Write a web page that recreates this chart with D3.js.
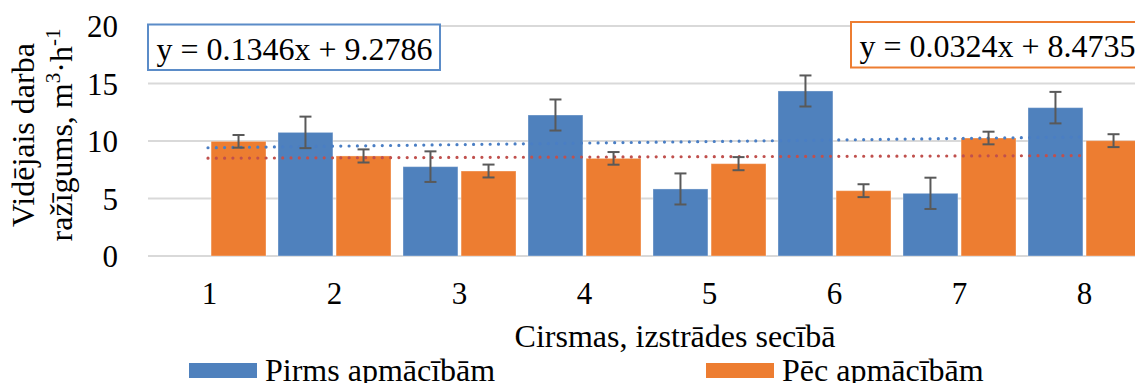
<!DOCTYPE html>
<html>
<head>
<meta charset="utf-8">
<script src="https://cdn.jsdelivr.net/npm/d3@7"></script>
<style>
    body { margin: 0; background: #fff; overflow: hidden; }
    svg { display: block; font-family: 'Liberation Serif', 'Times New Roman', serif; }
</style>
</head>
<body>
<script>
/* Chart data */
var categories = ['1', '2', '3', '4', '5', '6', '7', '8'];
var pirms = [null, 10.75, 7.77, 12.26, 5.83, 14.35, 5.45, 12.9];
var pirmsErr = [null, 1.37, 1.33, 1.35, 1.35, 1.35, 1.36, 1.37];
var pec = [9.97, 8.7, 7.39, 8.49, 8.03, 5.68, 10.26, 10.03];
var pecErr = [0.55, 0.57, 0.56, 0.55, 0.57, 0.56, 0.55, 0.56];
var yTicks = [0, 5, 10, 15, 20];
var seriesNames = ['Pirms apmācībām', 'Pēc apmācībām'];
/* Linear trend lines, as [slope, intercept] */
var pirmsTrend = [0.1346, 9.2786];
var pecTrend = [0.0324, 8.4735];
var pirmsEq = 'y = 0.1346x + 9.2786';
var pecEq = 'y = 0.0324x + 8.4735';

var colors = {pirms: '#4F81BD', pec: '#ED7D31'};

var width = 1135, height = 383;

var svg = d3.select('body')
    .append('svg')
    .attr('width', width)
    .attr('height', height);

/* Scales: plot area runs past the right edge, as in the picture */
var x = d3.scaleBand()
    .domain(categories)
    .range([147, 1147])
    .paddingInner(0)
    .paddingOuter(0);

var xs = d3.scaleBand()
    .domain(['pirms', 'pec'])
    .range([x.bandwidth() / 2 - 56.5, x.bandwidth() / 2 + 56.5])
    .paddingInner(0.054);

var y = d3.scaleLinear()
    .domain([0, 20])
    .range([256, 26]);

/* Gridlines */
svg.append('g')
    .selectAll('line')
    .data(yTicks)
    .enter()
    .append('line')
    .attr('x1', 148)
    .attr('x2', width)
    .attr('y1', function (d) { return y(d); })
    .attr('y2', function (d) { return y(d); })
    .attr('stroke', '#D9D9D9')
    .attr('stroke-width', 2);

/* Y axis labels */
var yAxis = svg.append('g')
    .attr('transform', 'translate(118,0)')
    .call(d3.axisLeft(y).tickValues(yTicks).tickSize(0).tickPadding(0));
yAxis.select('.domain').remove();
yAxis.selectAll('text')
    .attr('font-family', "'Liberation Serif', 'Times New Roman', serif")
    .attr('font-size', 31)
    .attr('fill', '#000')
    .attr('dy', '0.34em');

/* X axis labels */
var xAxis = svg.append('g')
    .attr('transform', 'translate(0,304)')
    .call(d3.axisBottom(x).tickSize(0).tickPadding(0));
xAxis.select('.domain').remove();
xAxis.selectAll('text')
    .attr('font-family', "'Liberation Serif', 'Times New Roman', serif")
    .attr('font-size', 31)
    .attr('fill', '#000')
    .attr('y', 0)
    .attr('dy', 0);

/* Bars */
function addBars(key, values) {
    svg.append('g')
        .selectAll('rect')
        .data(values.map(function (v, i) { return {c: categories[i], v: v}; })
              .filter(function (d) { return d.v !== null; }))
        .enter()
        .append('rect')
        .attr('x', function (d) { return x(d.c) + xs(key); })
        .attr('y', function (d) { return y(d.v); })
        .attr('width', xs.bandwidth())
        .attr('height', function (d) { return y(0) - y(d.v); })
        .attr('fill', colors[key])
        .attr('stroke', '#fff')
        .attr('stroke-opacity', 0.35)
        .attr('stroke-width', 1);
}
addBars('pirms', pirms);
addBars('pec', pec);

/* Dotted trend lines */
function addTrend(coef, color) {
    var line = d3.line()
        .x(function (d) { return x(d) + x.bandwidth() / 2 - 1.5; })
        .y(function (d, i) { return y(coef[0] * (i + 1) + coef[1]); });
    svg.append('path')
        .datum(categories)
        .attr('d', line)
        .attr('fill', 'none')
        .attr('stroke', color)
        .attr('stroke-width', 3.2)
        .attr('stroke-linecap', 'round')
        .attr('stroke-dasharray', '0 8.3');
}
addTrend(pirmsTrend, '#4A7EC4');
addTrend(pecTrend, '#C0504D');

/* Error bars */
function addErrors(key, values, errs) {
    var data = values.map(function (v, i) {
        return {c: categories[i], v: v, e: errs[i]};
    }).filter(function (d) { return d.v !== null; });
    var g = svg.append('g')
        .attr('stroke', '#595959')
        .attr('stroke-width', 2);
    data.forEach(function (d) {
        var cx = x(d.c) + xs(key) + xs.bandwidth() / 2;
        g.append('line')
            .attr('x1', cx).attr('x2', cx)
            .attr('y1', y(d.v + d.e)).attr('y2', y(d.v - d.e));
        [d.v + d.e, d.v - d.e].forEach(function (t) {
            g.append('line')
                .attr('x1', cx - 6).attr('x2', cx + 6)
                .attr('y1', y(t)).attr('y2', y(t));
        });
    });
}
addErrors('pirms', pirms, pirmsErr);
addErrors('pec', pec, pecErr);

/* Trend line equation boxes */
function addEquation(txt, bx, by, bw, color) {
    svg.append('rect')
        .attr('x', bx).attr('y', by)
        .attr('width', bw).attr('height', 45.5)
        .attr('fill', '#fff')
        .attr('stroke', color)
        .attr('stroke-width', 2);
    svg.append('text')
        .attr('x', bx + 8.5)
        .attr('y', by + 35)
        .attr('font-size', 32)
        .text(txt);
}
addEquation(pirmsEq, 148, 24.5, 292, '#5B8CC8');
addEquation(pecEq, 851, 22, 300, colors.pec);

/* Axis titles */
var yTitle = svg.append('g')
    .attr('font-size', 32)
    .attr('text-anchor', 'middle');
yTitle.append('text')
    .attr('transform', 'translate(34,135) rotate(-90)')
    .text('Vidējais darba');
var t2 = yTitle.append('text')
    .attr('transform', 'translate(72,135) rotate(-90)');
t2.append('tspan').text('ražīgums, m');
t2.append('tspan').attr('font-size', 21).attr('dy', -12).text('3');
t2.append('tspan').attr('dy', 12).text('·h');
t2.append('tspan').attr('font-size', 21).attr('dy', -12).text('-1');

svg.append('text')
    .attr('x', 675)
    .attr('y', 347)
    .attr('font-size', 32)
    .attr('text-anchor', 'middle')
    .text('Cirsmas, izstrādes secībā');

/* Legend */
var legend = svg.append('g');
var legendX = [189, 706];
legend.selectAll('rect')
    .data(seriesNames)
    .enter()
    .append('rect')
    .attr('x', function (d, i) { return legendX[i]; })
    .attr('y', 363)
    .attr('width', 68)
    .attr('height', 15)
    .attr('fill', function (d, i) { return i === 0 ? colors.pirms : colors.pec; });
legend.selectAll('text')
    .data(seriesNames)
    .enter()
    .append('text')
    .attr('x', function (d, i) { return legendX[i] + 76; })
    .attr('y', 381)
    .attr('font-size', 32)
    .text(function (d) { return d; });
</script>
</body>
</html>
